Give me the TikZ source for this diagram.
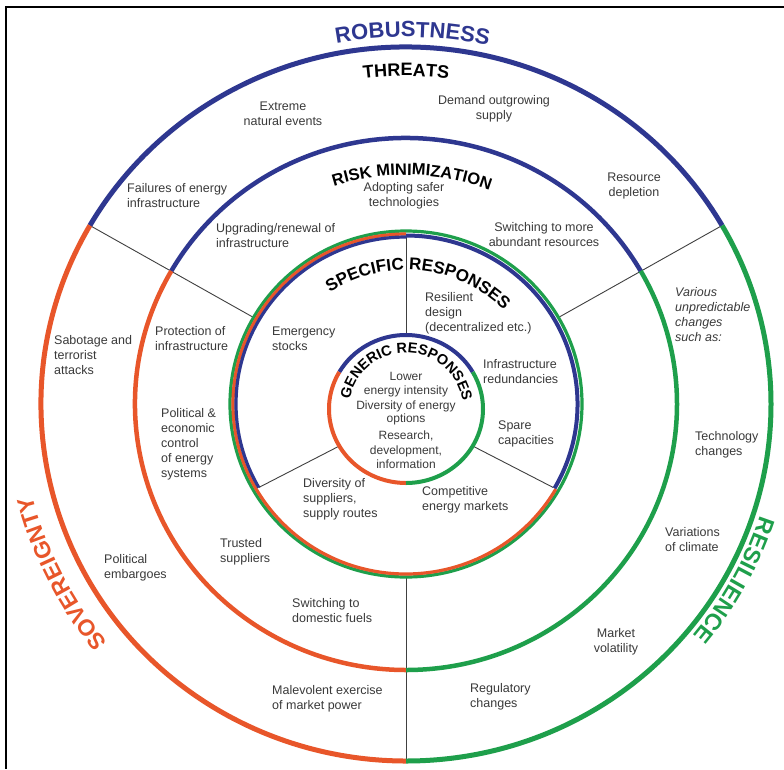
\documentclass[tikz,border=0pt]{standalone}
\usepackage{fontspec}
\setmainfont{Liberation Sans}
\usetikzlibrary{decorations.text,calc}
\definecolor{rblue}{HTML}{2E3790}
\definecolor{rred}{HTML}{E8562A}
\definecolor{rgreen}{HTML}{1E9F4B}
\definecolor{txt}{HTML}{3A3A3A}
\begin{document}
\begin{tikzpicture}[x=1pt,y=1pt,
  lbl/.style={font=\fontsize{12.5}{15}\selectfont, text=txt, inner sep=0pt},
  lbll/.style={lbl, align=left, anchor=west},
  lblc/.style={lbl, align=center, anchor=center},
  divider/.style={draw=black!75, line width=0.9pt},
  ringone/.style={line width=5pt},
  ringtwo/.style={line width=4.5pt},
  ringfour/.style={line width=4pt},
  band/.style={line width=3.2pt}]
\useasboundingbox (0,0) rectangle (784,-769);
\fill[white] (0,0) rectangle (784,-769);
% frame
\coordinate (f1) at (784,-7);
\coordinate (f2) at (6,-7);
\coordinate (f3) at (6,-769);
\draw[black, line width=2.6pt] (f1) -- (f2) -- (f3);
\coordinate (C) at (406,-404);
\coordinate (G) at (406,-409);
% divider end points
\foreach \a in {30,150,270}{
  \coordinate (o\a) at ($(C)+(\a:365pt and 357pt)$);
  \coordinate (i\a) at ($(C)+(\a:176pt and 173pt)$);
}
\foreach \a in {90,210,330}{
  \coordinate (s\a) at ($(C)+(\a:170pt and 167pt)$);
  \coordinate (g\a) at ($(G)+(\a:77pt and 74pt)$);
}
\draw[divider] (o30) -- (i30);
\draw[divider] (o150) -- (i150);
\draw[divider] (o270) -- (i270);
\draw[divider] (s90) -- (g90);
\draw[divider] (s210) -- (g210);
\draw[divider] (s330) -- (g330);
% ring 1
\draw[ringone, rblue] ($(C)+(30:365pt and 357pt)$) arc[start angle=30,end angle=150,x radius=365pt,y radius=357pt];
\draw[ringone, rred] ($(C)+(150:365pt and 357pt)$) arc[start angle=150,end angle=270,x radius=365pt,y radius=357pt];
\draw[ringone, rgreen] ($(C)+(270:365pt and 357pt)$) arc[start angle=270,end angle=390,x radius=365pt,y radius=357pt];
% ring 2
\draw[ringtwo, rblue] ($(C)+(30:271pt and 266pt)$) arc[start angle=30,end angle=150,x radius=271pt,y radius=266pt];
\draw[ringtwo, rred] ($(C)+(150:271pt and 266pt)$) arc[start angle=150,end angle=270,x radius=271pt,y radius=266pt];
\draw[ringtwo, rgreen] ($(C)+(270:271pt and 266pt)$) arc[start angle=270,end angle=390,x radius=271pt,y radius=266pt];
% ring 3 (bands)
\draw[band, rgreen] (C) ellipse[x radius=176pt, y radius=173pt];
\draw[band, rred] ($(C)+(90:173pt and 170pt)$) arc[start angle=90,end angle=330,x radius=173pt,y radius=170pt];
\draw[line width=4pt, rblue] ($(C)+(-30:171.5pt and 168.5pt)$) arc[start angle=-30,end angle=90,x radius=171.5pt,y radius=168.5pt];
\draw[band, rblue] ($(C)+(90:170pt and 167pt)$) arc[start angle=90,end angle=210,x radius=170pt,y radius=167pt];
% ring 4
\draw[ringfour, rblue] ($(G)+(30:77pt and 74pt)$) arc[start angle=30,end angle=150,x radius=77pt,y radius=74pt];
\draw[ringfour, rred] ($(G)+(150:77pt and 74pt)$) arc[start angle=150,end angle=270,x radius=77pt,y radius=74pt];
\draw[ringfour, rgreen] ($(G)+(270:77pt and 74pt)$) arc[start angle=270,end angle=390,x radius=77pt,y radius=74pt];
% curved titles
\path[decorate, decoration={text along path, text align=center, text color=rblue,
  text={|\fontsize{22}{22}\selectfont\bfseries|ROBUSTNESS}}]
  ($(C)+(125:375pt and 367pt)$) arc[start angle=125,end angle=53,x radius=375pt,y radius=367pt];
\path[decorate, decoration={text along path, text align=center, text color=rred,
  text={|\fontsize{23}{23}\selectfont\bfseries|SOVEREIGNTY}}]
  ($(C)+(244:385pt and 377pt)$) arc[start angle=244,end angle=169,x radius=385pt,y radius=377pt];
\path[decorate, decoration={text along path, text align=center, text color=rgreen,
  text={|\fontsize{23}{23}\selectfont\bfseries|RESILIENCE}}]
  ($(C)+(7:372pt and 364pt)$) arc[start angle=7,end angle=-64,x radius=372pt,y radius=364pt];
\path[decorate, decoration={text along path, text align=center, text color=black,
  text={|\fontsize{18}{18}\selectfont\bfseries|THREATS}}]
  ($(C)+(120:336pt and 328pt)$) arc[start angle=120,end angle=60,x radius=336pt,y radius=328pt];
\path[decorate, decoration={text along path, text align=center, text color=black,
  text={|\fontsize{16.5}{16.5}\selectfont\bfseries|RISK MINIMIZATION}}]
  ($(C)+(133.5:234pt and 229pt)$) arc[start angle=133.5,end angle=43.5,x radius=234pt,y radius=229pt];
\path[decorate, decoration={text along path, text align=center, text color=black,
  text={|\fontsize{17}{17}\selectfont\bfseries|SPECIFIC RESPONSES}}]
  ($(C)+(144:137pt and 134pt)$) arc[start angle=144,end angle=24,x radius=137pt,y radius=134pt];
\path[decorate, decoration={text along path, text align=center, text color=black,
  text={|\fontsize{14.5}{14.5}\selectfont\bfseries|GENERIC RESPONSES}}]
  ($(G)+(200:57pt and 56pt)$) arc[start angle=200,end angle=-22,x radius=57pt,y radius=56pt];
% threats
\node[lblc] (t1) at (283,-114) {Extreme\\natural events};
\node[lblc] (t2) at (494,-109) {Demand outgrowing\\supply};
\node[lbll] (t3) at (127,-195.5) {Failures of energy\\infrastructure};
\node[lblc] (t4) at (634,-186) {Resource\\depletion};
\node[lbll] (t5) at (54,-355) {Sabotage and\\terrorist\\attacks};
\node[lbll] (t6) at (104,-568) {Political\\embargoes};
\node[lbll] (t7) at (272,-699) {Malevolent exercise\\of market power};
\node[lbll] (t8) at (470,-697) {Regulatory\\changes};
\node[lblc] (t9) at (616,-642) {Market\\volatility};
\node[lbll] (t10) at (665,-540) {Variations\\of climate};
\node[lbll] (t11) at (695,-445) {Technology\\changes};
\node[lbll, font=\fontsize{12.5}{15}\selectfont\itshape] (t12) at (675,-315) {Various\\unpredictable\\changes\\such as:};
% risk minimization
\node[lblc] (r1) at (404,-196) {Adopting safer\\technologies};
\node[lbll] (r2) at (216,-236) {Upgrading/renewal of\\infrastructure};
\node[lblc] (r3) at (544,-235) {Switching to more\\abundant resources};
\node[lbll] (r4) at (155,-339) {Protection of\\infrastructure};
\node[lbll] (r5) at (161,-444) {Political \&\\economic\\control\\of energy\\systems};
\node[lbll] (r6) at (220,-552) {Trusted\\suppliers};
\node[lbll] (r7) at (292,-611) {Switching to\\domestic fuels};
% specific responses
\node[lbll] (p1) at (272,-339) {Emergency\\stocks};
\node[lbll] (p2) at (425,-313) {Resilient\\design\\(decentralized etc.)};
\node[lbll] (p3) at (483,-372) {Infrastructure\\redundancies};
\node[lbll] (p4) at (498,-434) {Spare\\capacities};
\node[lbll] (p5) at (422,-500) {Competitive\\energy markets};
\node[lbll] (p6) at (303,-499) {Diversity of\\suppliers,\\supply routes};
% generic responses
\node[lblc, font=\fontsize{12}{14}\selectfont] (n1) at (406,-385) {Lower\\energy intensity};
\node[lblc, font=\fontsize{12}{13}\selectfont] (n2) at (406,-413) {Diversity of energy\\options};
\node[lblc, font=\fontsize{12}{14.5}\selectfont] (n3) at (406,-450) {Research,\\development,\\information};
\end{tikzpicture}
\end{document}
